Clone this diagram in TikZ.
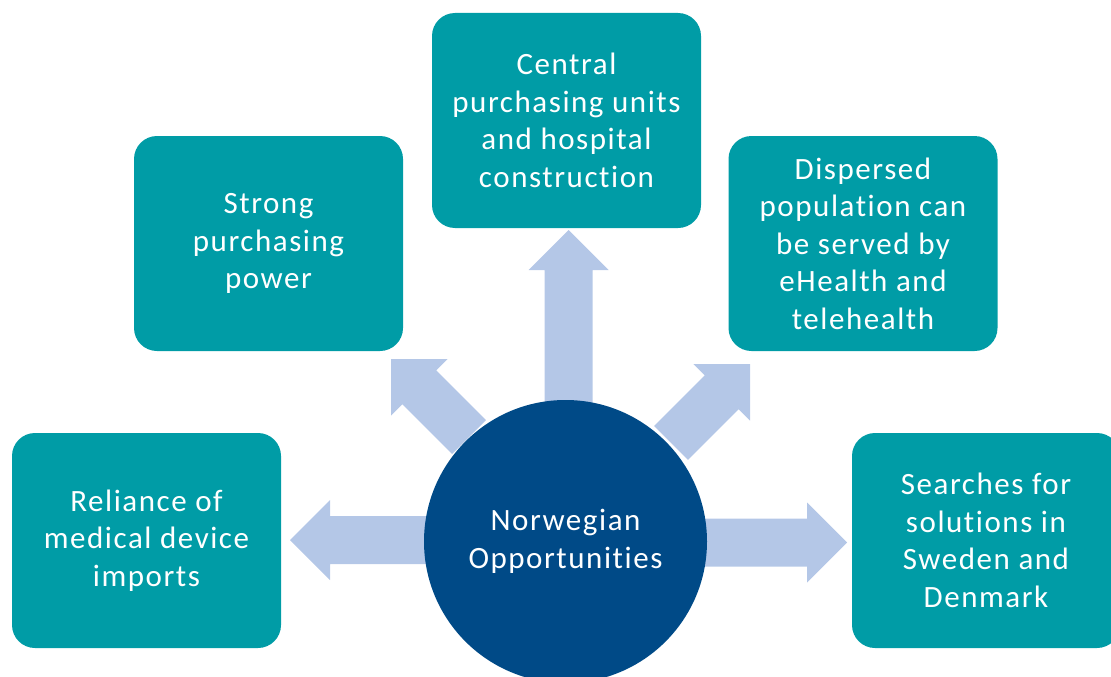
\documentclass[tikz,border=0pt]{standalone}
\usepackage{fontspec}
\setmainfont{Carlito}[LetterSpace=5.0, Ligatures={NoCommon}]
\usetikzlibrary{calc}
\definecolor{tealbox}{RGB}{0,156,166}
\definecolor{navyhub}{RGB}{0,74,135}
\definecolor{arrowblue}{RGB}{180,199,231}
\tikzset{
  box/.style={fill=tealbox, rounded corners=23pt, minimum width=269pt, minimum height=215pt,
    inner sep=0pt, text=white, align=center, font=\fontsize{31}{37.5}\selectfont},
  hub/.style={circle, fill=navyhub, minimum size=283pt, inner sep=0pt, text=white,
    align=center, font=\fontsize{31}{37.5}\selectfont},
  blockarrow/.style={fill=arrowblue}
}
% block arrow from tail coordinate #1 to tip coordinate #2
\newcommand\blockarr[2]{%
  \coordinate (#2-h) at ($(#2)!40pt!(#1)$);
  \fill[blockarrow] ($(#1)!24pt!90:(#2)$) -- ($(#2-h)!24pt!90:(#2)$) -- ($(#2-h)!40pt!90:(#2)$)
    -- (#2) -- ($(#2-h)!40pt!-90:(#2)$) -- ($(#2-h)!24pt!-90:(#2)$) -- ($(#1)!24pt!-90:(#2)$) -- cycle;
}
\begin{document}
\begin{tikzpicture}[x=1pt, y=-1pt]
  \useasboundingbox (0,0) rectangle (1111,677);
  \clip (0,0) rectangle (1111,677);
  % arrow end points
  \coordinate (upT) at (568.5,430);  \coordinate (upP) at (568.5,230);
  \coordinate (lfT) at (440,540);    \coordinate (lfP) at (290,540);
  \coordinate (rtT) at (690,542.5);  \coordinate (rtP) at (847,542.5);
  \coordinate (ulT) at (469,437);    \coordinate (ulP) at (391,359);
  \coordinate (urT) at (671,443);    \coordinate (urP) at (750,364);
  \blockarr{upT}{upP}
  \blockarr{lfT}{lfP}
  \blockarr{rtT}{rtP}
  \blockarr{ulT}{ulP}
  \blockarr{urT}{urP}
  % hub
  \node[hub] (hub) at (565.5,541.5) {Norwegian\\Opportunities};
  % boxes
  \node[box] (top) at (566.5,120.5) {Central\\purchasing units\\and hospital\\construction};
  \node[box] (ul) at (268.5,243.5) {Strong\\purchasing\\power};
  \node[box] (ur) at (863,243.5) {Dispersed\\population can\\be served by\\eHealth and\\telehealth};
  \node[box] (ll) at (146.5,540.5) {Reliance of\\medical device\\imports};
  \node[box, minimum width=268pt] (lr) at (986,540.5) {Searches for\\solutions in\\Sweden and\\Denmark};
\end{tikzpicture}
\end{document}
